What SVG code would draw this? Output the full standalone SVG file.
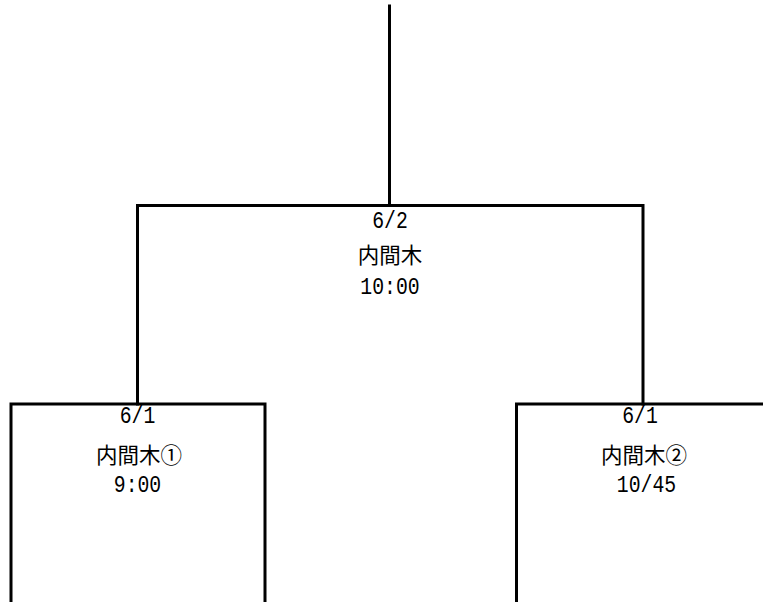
<svg xmlns="http://www.w3.org/2000/svg" width="763" height="602" viewBox="0 0 763 602">
<style>
.ln{fill:none;stroke:#000;stroke-width:3;stroke-linecap:square;stroke-linejoin:miter}
.num{font-family:"Liberation Mono","DejaVu Sans Mono",monospace;font-size:23px;fill:#000;text-anchor:middle}
.jp{font-family:"Noto Sans CJK JP","Noto Sans CJK SC",sans-serif;font-size:21.5px;fill:#000;text-anchor:middle}
</style>
<rect width="763" height="602" fill="#fff"/>
<g id="connectors">
<path class="ln" d="M389.5 6 V205.5"/>
<path class="ln" d="M137.5 404 V205.5 H643 V404"/>
</g>
<g id="final">
<text class="num" transform="translate(390,228) scale(0.86,1)">6/2</text>
<text class="jp" x="390" y="263">内間木</text>
<text class="num" transform="translate(390,294) scale(0.86,1)">10:00</text>
</g>
<g id="match1">
<path class="ln" d="M11 604 V404 H265 V604"/>
<text class="num" transform="translate(137.5,423) scale(0.86,1)">6/1</text>
<text class="jp" x="139" y="463">内間木①</text>
<text class="num" transform="translate(137.5,492) scale(0.86,1)">9:00</text>
</g>
<g id="match2">
<path class="ln" d="M516.5 604 V404 H770"/>
<text class="num" transform="translate(640,423) scale(0.86,1)">6/1</text>
<text class="jp" x="644" y="463">内間木②</text>
<text class="num" transform="translate(646.5,492) scale(0.86,1)">10/45</text>
</g>
</svg>
